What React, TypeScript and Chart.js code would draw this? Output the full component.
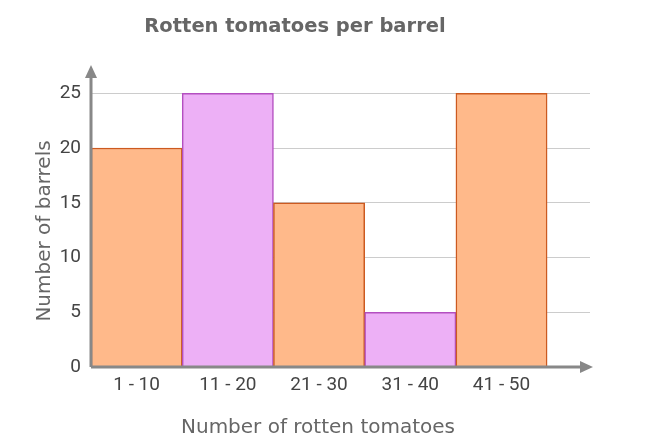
import React, { useEffect, useRef } from "react";
import { Chart, registerables } from "chart.js";

Chart.register(...registerables);

const categories = ["1 - 10", "11 - 20", "21 - 30", "31 - 40", "41 - 50"];
const binCenters = [5, 15, 25, 35, 45];
const barrels = [20, 25, 15, 5, 25];
const yTickValues = [0, 5, 10, 15, 20, 25];

const orange = "#ffb98a";
const orangeBorder = "#cc5a20";
const purple = "#edb0f6";
const purpleBorder = "#b34fc0";

const xTitle = "Number of rotten tomatoes";
const yTitle = "Number of barrels";

// axis lines with arrow heads, plus the two axis titles
const axisArrows = {
  id: "axisArrows",
  afterDatasetsDraw(chart) {
    const { ctx, chartArea } = chart;
    const { left, right, top, bottom } = chartArea;
    ctx.save();
    ctx.strokeStyle = "#888888";
    ctx.fillStyle = "#888888";
    ctx.lineWidth = 3;
    ctx.beginPath();
    ctx.moveTo(left, bottom);
    ctx.lineTo(right - 6, bottom);
    ctx.moveTo(left, bottom);
    ctx.lineTo(left, top + 8);
    ctx.stroke();

    ctx.beginPath();
    ctx.moveTo(right + 3, bottom);
    ctx.lineTo(right - 10, bottom - 6);
    ctx.lineTo(right - 10, bottom + 6);
    ctx.closePath();
    ctx.fill();

    ctx.beginPath();
    ctx.moveTo(left, top - 1);
    ctx.lineTo(left - 6, top + 12);
    ctx.lineTo(left + 6, top + 12);
    ctx.closePath();
    ctx.fill();

    ctx.fillStyle = "#666666";
    ctx.font = "20px 'DejaVu Sans'";
    ctx.textAlign = "center";
    ctx.textBaseline = "alphabetic";
    ctx.fillText(xTitle, 318, 433);

    ctx.translate(50, 231);
    ctx.rotate(-Math.PI / 2);
    ctx.fillText(yTitle, 0, 0);
    ctx.restore();
  },
};

export default function App() {
  const canvasRef = useRef<HTMLCanvasElement>(null);

  useEffect(() => {
    document.body.style.margin = "0";
    const ctx = canvasRef.current.getContext("2d");

    const chart = new Chart(ctx, {
      type: "bar",
      data: {
        datasets: [
          {
            label: "Barrels",
            data: binCenters.map((x, i) => ({ x, y: barrels[i] })),
            backgroundColor: barrels.map((_, i) => (i % 2 === 0 ? orange : purple)),
            borderColor: barrels.map((_, i) => (i % 2 === 0 ? orangeBorder : purpleBorder)),
            borderWidth: 1.5,
            barPercentage: 1,
            categoryPercentage: 1,
          },
        ],
      },
      options: {
        responsive: true,
        maintainAspectRatio: false,
        animation: false,
        layout: { padding: { right: 65, left: 0, top: 0, bottom: 0 } },
        plugins: {
          legend: { display: false },
          tooltip: { enabled: false },
          title: {
            display: true,
            text: "Rotten tomatoes per barrel",
            color: "#666666",
            font: { family: "'DejaVu Sans'", size: 19.5, weight: "bold" },
            padding: { top: 15.5, bottom: 27 },
          },
        },
        scales: {
          x: {
            type: "linear",
            min: 0,
            max: 54.7,
            offset: false,
            afterBuildTicks: (scale) => {
              scale.ticks = binCenters.map((value) => ({ value }));
            },
            afterFit: (scale) => {
              scale.height = 80;
            },
            ticks: {
              autoSkip: false,
              maxRotation: 0,
              padding: 7,
              color: "#444444",
              font: { family: "Roboto", size: 19 },
              callback: (value) => categories[binCenters.indexOf(Number(value))],
            },
            grid: { display: false, drawTicks: false },
            border: { display: false },
          },
          y: {
            min: 0,
            max: 27.5,
            afterBuildTicks: (scale) => {
              scale.ticks = yTickValues.map((value) => ({ value }));
            },
            afterFit: (scale) => {
              scale.width = 91;
            },
            ticks: {
              padding: 10,
              color: "#444444",
              font: { family: "Roboto", size: 19 },
            },
            grid: { color: "#cccccc", lineWidth: 1, drawTicks: false },
            border: { display: false },
          },
        },
      },
      plugins: [axisArrows],
    });

    return () => {
      chart.destroy();
    };
  }, []);

  return (
    <div style={{ width: 655, height: 447, position: "relative" }}>
      <canvas ref={canvasRef} />
    </div>
  );
}
